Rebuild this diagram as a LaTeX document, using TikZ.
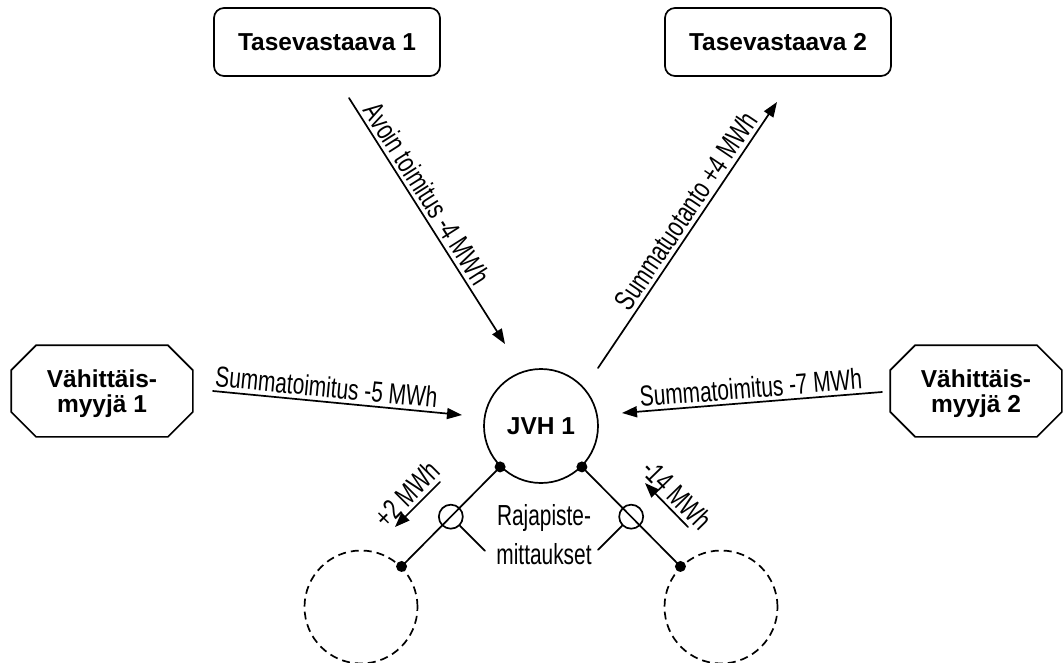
\documentclass[tikz,border=0pt]{standalone}
\usepackage{fontspec}
\setmainfont{Liberation Sans}
\newfontfamily\narrowfont[FakeStretch=0.72]{Liberation Sans}
\usetikzlibrary{arrows.meta}

\begin{document}
\begin{tikzpicture}[line cap=round,line join=round,x=1pt,y=-1pt,line width=1.7pt,>={Triangle[length=15pt,width=11pt]},
  party/.style={draw,rounded corners=10pt,minimum width=226pt,minimum height=68pt,font=\fontsize{24.5}{28}\selectfont\bfseries},
  seller/.style={minimum height=90pt,align=center,text depth=-11pt,font=\fontsize{24.5}{25}\selectfont\bfseries},
  grid/.style={draw,circle,minimum size=114pt,inner sep=0pt,font=\fontsize{24.5}{28}\selectfont\bfseries},
  outer/.style={draw,circle,line cap=butt,dash pattern=on 8pt off 5pt,minimum size=113pt,inner sep=0pt},
  meter/.style={draw,circle,minimum size=24pt,inner sep=0pt},
  flow/.style={font=\narrowfont\fontsize{29}{32}\selectfont,sloped,above,inner sep=3.5pt}]
\clip (0,0) rectangle (1064,662);
\node[party] (t1) at (327,42) {Tasevastaava 1};
\node[party] (t2) at (778,42) {Tasevastaava 2};
\node[seller,minimum width=180pt] (v1) at (102,391) {Vähittäis-\\myyjä 1};
\node[seller,minimum width=170pt] (v2) at (976,391) {Vähittäis-\\myyjä 2};
\foreach \v in {v1,v2}
  \draw ([xshift=25pt]\v.north west) -- ([xshift=-25pt]\v.north east) -- ([yshift=-25pt]\v.north east) -- ([yshift=25pt]\v.south east) -- ([xshift=-25pt]\v.south east) -- ([xshift=25pt]\v.south west) -- ([yshift=25pt]\v.south west) -- ([yshift=-25pt]\v.north west) -- cycle;
\node[grid] (jvh) at (541,426) {JVH 1};
\node[outer] (d1) at (361,607) {};
\node[outer] (d2) at (721,607) {};

\coordinate (a1) at (349,98);
\coordinate (a2) at (505,344);
\draw[->] (a1) -- node[flow,pos=0.42] {Avoin toimitus -4 MWh} (a2);
\coordinate (b1) at (598,368);
\coordinate (b2) at (777,102);
\draw[->] (b1) -- node[flow,pos=0.56] {Summatuotanto +4 MWh} (b2);
\coordinate (c1) at (213,391);
\coordinate (c2) at (462,415);
\draw[->] (c1) -- node[flow,pos=0.45] {Summatoimitus -5 MWh} (c2);
\coordinate (e1) at (882,392);
\coordinate (e2) at (622,413);
\draw[<-] (e2) -- node[flow,pos=0.5] {Summatoimitus -7 MWh} (e1);

\draw (jvh.225) -- node[meter] (m1) {} (d1.45);
\draw (jvh.-45) -- node[meter] (m2) {} (d2.135);
\foreach \p in {jvh.225,jvh.-45,d1.45,d2.135}
  \fill (\p) circle (5.5);
\node[font=\narrowfont\fontsize{29}{39}\selectfont,align=center] (raja) at (544,535) {Rajapiste-\\mittaukset};
\draw (m1.-45) -- ++(25,25);
\draw (m2.225) -- ++(-24,24);

\coordinate (p1) at (440,482);
\coordinate (p2) at (395,527);
\draw[<-] (p2) -- node[flow] {+2 MWh} (p1);
\coordinate (q1) at (688,527);
\coordinate (q2) at (645,483);
\draw[<-] (q2) -- node[flow] {-14 MWh} (q1);
\end{tikzpicture}
\end{document}
